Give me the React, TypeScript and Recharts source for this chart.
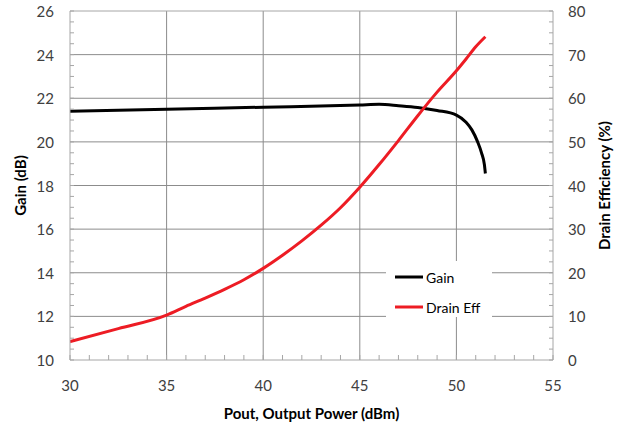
import React from 'react';
import { ComposedChart, Line, XAxis, YAxis, ReferenceLine, Legend, Label } from 'recharts';

const seriesNames = ['Gain', 'Drain Eff'];

const gainPout = [30, 35, 40, 45, 46, 47, 48, 49, 50, 50.5, 50.8, 51.1, 51.3, 51.45, 51.5];
const gainDb = [21.4, 21.5, 21.59, 21.69, 21.72, 21.66, 21.58, 21.44, 21.23, 20.9, 20.55, 20.0, 19.5, 18.95, 18.55];

const effPout = [30, 32.5, 35, 36, 37, 38, 39, 40, 41, 42, 43, 44, 45, 46, 47, 48, 49, 50, 50.5, 51, 51.5];
const effPct = [4.2, 7.2, 10.3, 12.3, 14.2, 16.2, 18.4, 21.0, 24.0, 27.3, 30.9, 34.9, 39.6, 44.8, 50.3, 56.0, 61.4, 66.3, 69.0, 71.8, 74.1];

const xTicks = Array.from({ length: 26 }, (_, i) => 30 + i);
const xMajor = [35, 40, 45, 50];
const leftTicks = Array.from({ length: 33 }, (_, i) => 10 + i * 0.5);
const leftMajor = [12, 14, 16, 18, 20, 22, 24, 26];
const rightTicks = Array.from({ length: 33 }, (_, i) => i * 2.5);

const gainData = gainPout.map((p, i) => ({ pout: p, gain: gainDb[i] }));
const effData = effPout.map((p, i) => ({ pout: p, eff: effPct[i] }));

const FONT = 'Lato, "Open Sans", sans-serif';
const TICK_COLOR = '#404040';
const GRID = '#8c8c8c';
const BORDER = '#a6a6a6';

const XTick = (props: any) => {
  const { x, y, payload } = props;
  if (payload.value % 5 !== 0) return null;
  return (
    <text x={x} y={y} textAnchor="middle" dominantBaseline="central" fontFamily={FONT} fontSize={15} fill={TICK_COLOR}>
      {payload.value}
    </text>
  );
};

const LeftTick = (props: any) => {
  const { x, y, payload } = props;
  if (payload.value % 2 !== 0) return null;
  return (
    <text x={x} y={y} textAnchor="end" dominantBaseline="central" fontFamily={FONT} fontSize={15} fill={TICK_COLOR}>
      {payload.value}
    </text>
  );
};

const RightTick = (props: any) => {
  const { x, y, payload } = props;
  if (payload.value % 10 !== 0) return null;
  return (
    <text x={x} y={y} textAnchor="start" dominantBaseline="central" fontFamily={FONT} fontSize={15} fill={TICK_COLOR}>
      {payload.value}
    </text>
  );
};

const makeVLabel = (text: string, dx: number) => (props: any) => {
  const vb = props.viewBox || {};
  const cx = vb.x + dx;
  const cy = vb.y + vb.height / 2;
  return (
    <text x={cx} y={cy} transform={`rotate(-90 ${cx} ${cy})`} textAnchor="middle" dominantBaseline="central" fontFamily={FONT} fontSize={15} fontWeight="bold" fill="#000">
      {text}
    </text>
  );
};

const XLabel = (props: any) => {
  const vb = props.viewBox || {};
  const cx = vb.x + vb.width / 2;
  const cy = vb.y + 53;
  return (
    <text x={cx} y={cy} textAnchor="middle" dominantBaseline="central" fontFamily={FONT} fontSize={15} fontWeight="bold" fill="#000">
      Pout, Output Power (dBm)
    </text>
  );
};

const renderLegend = (props: any) => {
  const payload = [...(props.payload || [])].sort(
    (a: any, b: any) => seriesNames.indexOf(a.value) - seriesNames.indexOf(b.value)
  );
  return (
    <div style={{ width: '100%', height: '100%', background: '#fff', position: 'relative' }}>
      {payload.map((entry: any, i: number) => (
        <div key={i} style={{ position: 'absolute', left: 9, top: 6 + i * 30, height: 20, display: 'flex', alignItems: 'center', fontFamily: FONT, fontSize: 14, color: '#000', whiteSpace: 'nowrap' }}>
          <svg width={29} height={20} style={{ display: 'block' }}>
            <line x1={0} y1={10} x2={28} y2={10} stroke={entry.color} strokeWidth={3} />
          </svg>
          <span style={{ marginLeft: 2 }}>{entry.value}</span>
        </div>
      ))}
    </div>
  );
};

export default function App() {
  return (
    <div style={{ position: 'absolute', left: 0, top: 0, width: 618, height: 425, background: '#fff' }}>
      <ComposedChart width={618} height={425} margin={{ top: 11, right: 0, bottom: 0, left: 0 }}>
        <XAxis
          type="number"
          dataKey="pout"
          domain={[30, 55]}
          ticks={xTicks}
          interval={0}
          allowDataOverflow
          height={65}
          tickSize={-5}
          tickMargin={30}
          tick={<XTick />}
          axisLine={{ stroke: BORDER }}
          tickLine={{ stroke: BORDER }}
        >
          <Label content={<XLabel />} position="bottom" />
        </XAxis>
        <YAxis
          yAxisId="left"
          orientation="left"
          type="number"
          domain={[10, 26]}
          ticks={leftTicks}
          interval={0}
          width={70}
          tickSize={-4}
          tickMargin={20}
          tick={<LeftTick />}
          axisLine={{ stroke: BORDER }}
          tickLine={{ stroke: BORDER }}
        >
          <Label content={makeVLabel('Gain (dB)', 20)} position="left" />
        </YAxis>
        <YAxis
          yAxisId="right"
          orientation="right"
          type="number"
          domain={[0, 80]}
          ticks={rightTicks}
          interval={0}
          width={65}
          tickSize={-4}
          tickMargin={19}
          tick={<RightTick />}
          axisLine={{ stroke: BORDER }}
          tickLine={{ stroke: BORDER }}
        >
          <Label content={makeVLabel('Drain Efficiency (%)', 51)} position="right" />
        </YAxis>
        {xMajor.map((v) => (
          <ReferenceLine key={'x' + v} x={v} yAxisId="left" stroke={GRID} strokeWidth={1} />
        ))}
        {leftMajor.map((v) => (
          <ReferenceLine key={'y' + v} y={v} yAxisId="left" stroke={v === 26 ? BORDER : GRID} strokeWidth={1} />
        ))}
        <Line
          yAxisId="left"
          data={gainData}
          dataKey="gain"
          name="Gain"
          type="monotone"
          stroke="#000000"
          strokeWidth={3}
          dot={false}
          activeDot={false}
          isAnimationActive={false}
        />
        <Line
          yAxisId="right"
          data={effData}
          dataKey="eff"
          name="Drain Eff"
          type="monotone"
          stroke="#ed1c24"
          strokeWidth={3}
          dot={false}
          activeDot={false}
          isAnimationActive={false}
        />
        <Legend
          layout="vertical"
          align="center"
          verticalAlign="middle"
          content={renderLegend}
          wrapperStyle={{ position: 'absolute', left: 386, top: 261, width: 106, height: 56 }}
        />
      </ComposedChart>
    </div>
  );
}
